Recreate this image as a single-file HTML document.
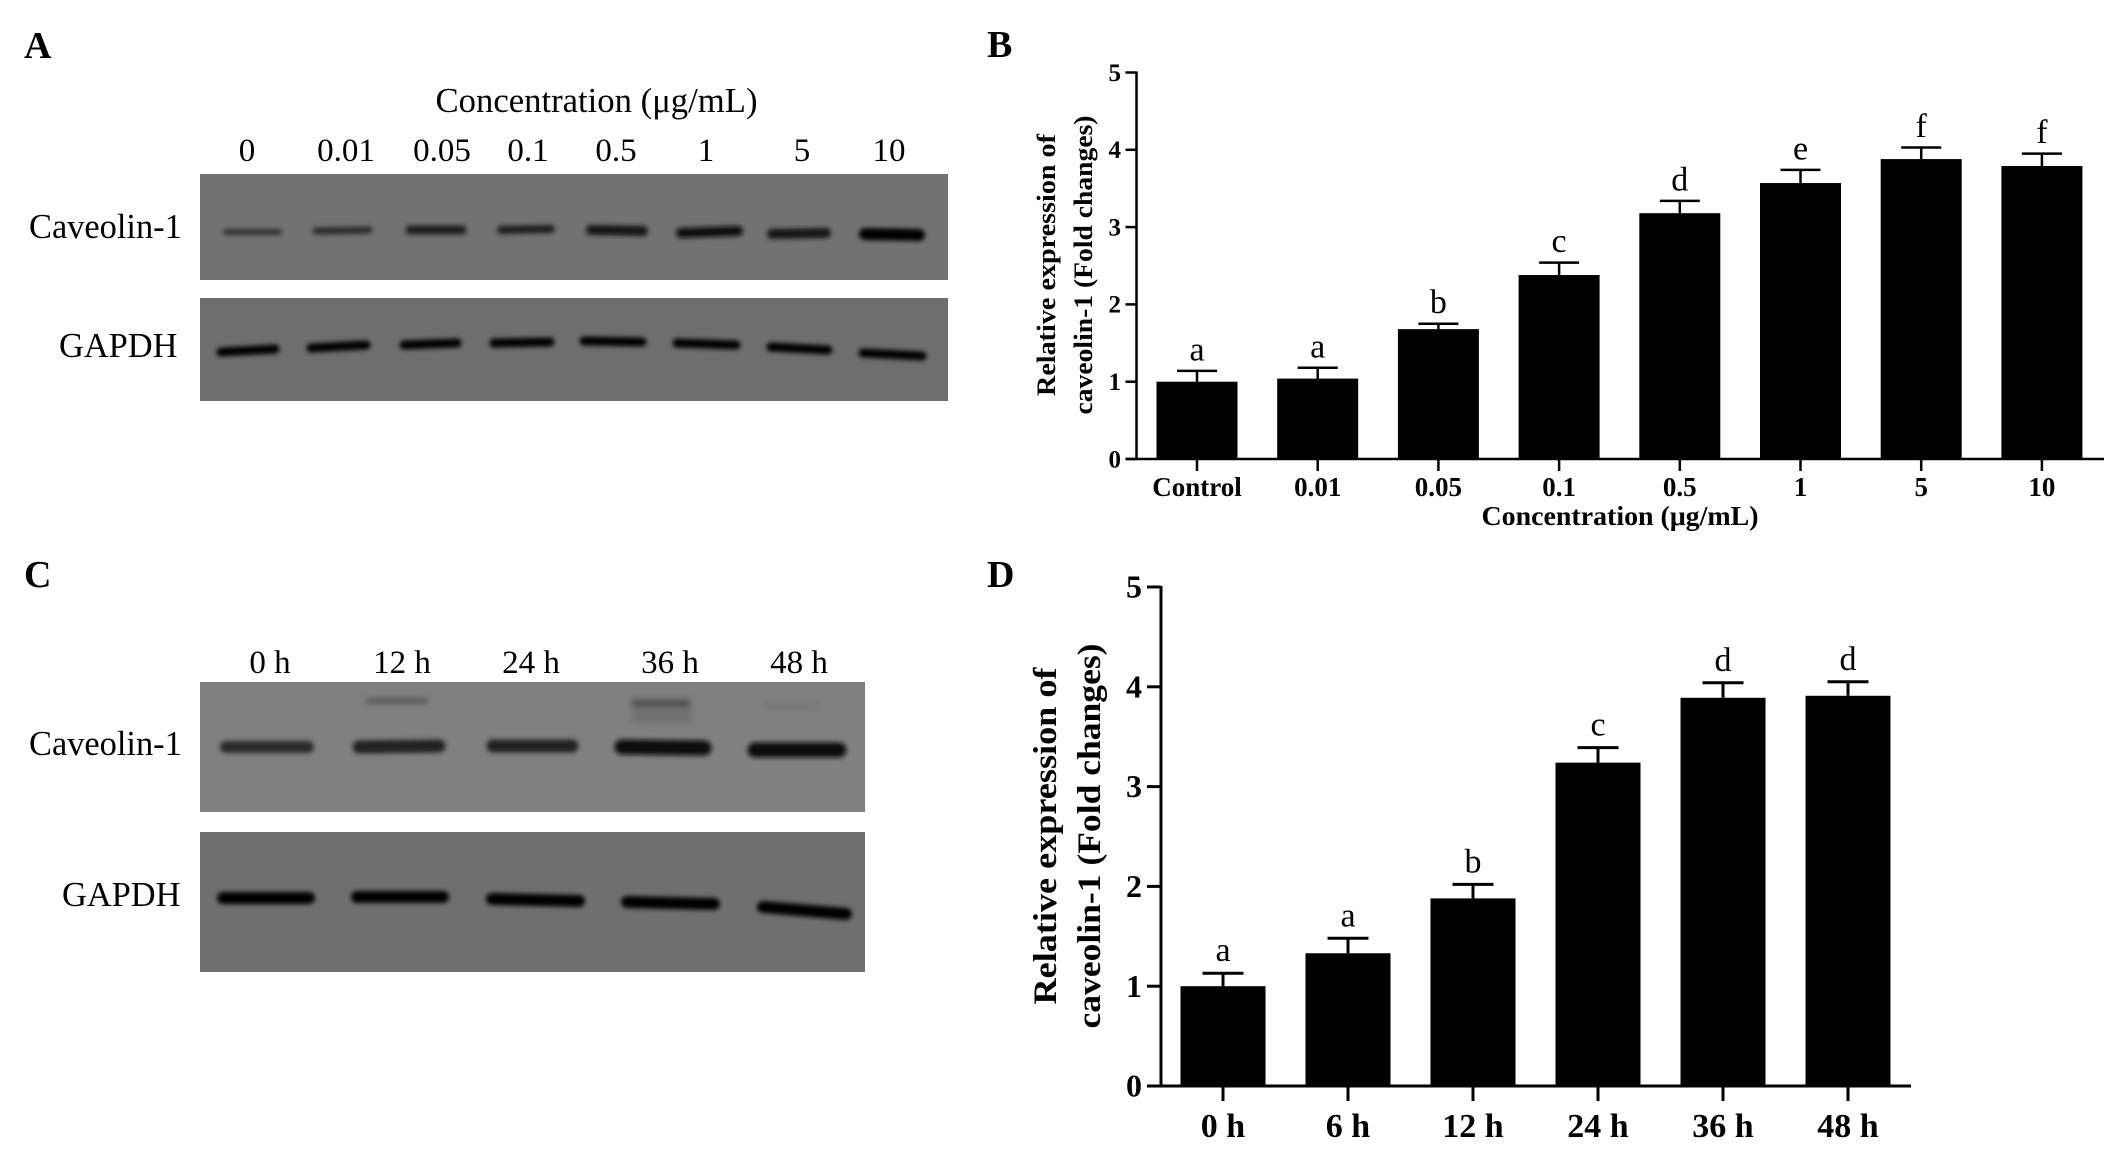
<!DOCTYPE html>
<html>
<head>
<meta charset="utf-8">
<title>Caveolin-1 expression figure</title>
<style>
html,body{margin:0;padding:0;background:#fff;}
svg{display:block;}
text{font-family:"Liberation Serif",serif;fill:#000;}
.panel{font-size:38px;font-weight:bold;}
.lbl{font-size:33px;}
.side{font-size:34.4px;}
</style>
</head>
<body>
<svg id="figure" width="2126" height="1158" viewBox="0 0 2126 1158" xmlns="http://www.w3.org/2000/svg">
<defs>
<filter id="blur" x="-20%" y="-300%" width="140%" height="700%"><feGaussianBlur stdDeviation="2.4"/></filter>
<filter id="blur2" x="-20%" y="-200%" width="140%" height="500%"><feGaussianBlur stdDeviation="3"/></filter>
</defs>
<rect width="2126" height="1158" fill="#fff"/>

<text class="panel" x="24" y="58">A</text>
<text class="panel" x="987" y="57">B</text>
<text class="panel" x="24" y="587">C</text>
<text class="panel" x="987" y="587">D</text>

<g>
<text class="side" x="596.5" y="112" text-anchor="middle" textLength="322" lengthAdjust="spacingAndGlyphs">Concentration (μg/mL)</text>
<text class="lbl" x="247" y="161" text-anchor="middle">0</text>
<text class="lbl" x="346" y="161" text-anchor="middle">0.01</text>
<text class="lbl" x="442" y="161" text-anchor="middle">0.05</text>
<text class="lbl" x="528" y="161" text-anchor="middle">0.1</text>
<text class="lbl" x="616" y="161" text-anchor="middle">0.5</text>
<text class="lbl" x="706" y="161" text-anchor="middle">1</text>
<text class="lbl" x="802" y="161" text-anchor="middle">5</text>
<text class="lbl" x="889" y="161" text-anchor="middle">10</text>
<text class="side" x="29" y="238">Caveolin-1</text>
<text class="side" x="59" y="357">GAPDH</text>
<rect x="200" y="174" width="748" height="106" fill="#727272"/>
<g fill="none" stroke-linecap="round" filter="url(#blur)">
<line x1="226" y1="232" x2="279" y2="232" stroke="#303030" stroke-width="6"/>
<line x1="316" y1="231" x2="369" y2="230" stroke="#2c2c2c" stroke-width="7"/>
<line x1="410" y1="230" x2="462" y2="230" stroke="#1c1c1c" stroke-width="9"/>
<line x1="501" y1="230" x2="551" y2="229" stroke="#1c1c1c" stroke-width="8"/>
<line x1="591" y1="230" x2="643" y2="231" stroke="#181818" stroke-width="10"/>
<line x1="681" y1="233" x2="738" y2="231" stroke="#0c0c0c" stroke-width="10"/>
<line x1="772" y1="234" x2="826" y2="233" stroke="#161616" stroke-width="10"/>
<line x1="865" y1="234" x2="919" y2="235" stroke="#050505" stroke-width="12"/>
</g>
<rect x="200" y="298" width="748" height="103" fill="#6e6e6e"/>
<g fill="none" stroke="#060606" stroke-width="9" stroke-linecap="round" filter="url(#blur)">
<line x1="221" y1="352" x2="275" y2="349"/>
<line x1="311" y1="348" x2="366" y2="345"/>
<line x1="404" y1="345" x2="457" y2="343"/>
<line x1="494" y1="343" x2="550" y2="342"/>
<line x1="584" y1="341" x2="642" y2="342"/>
<line x1="677" y1="343" x2="736" y2="345"/>
<line x1="771" y1="347" x2="828" y2="350"/>
<line x1="863" y1="353" x2="922" y2="356"/>
</g>
</g>

<g>
<text class="lbl" x="270" y="673" text-anchor="middle">0 h</text>
<text class="lbl" x="402" y="673" text-anchor="middle">12 h</text>
<text class="lbl" x="531" y="673" text-anchor="middle">24 h</text>
<text class="lbl" x="670" y="673" text-anchor="middle">36 h</text>
<text class="lbl" x="799" y="673" text-anchor="middle">48 h</text>
<text class="side" x="29" y="755">Caveolin-1</text>
<text class="side" x="62" y="906">GAPDH</text>
<rect x="200" y="682" width="665" height="130" fill="#808080"/>
<g fill="none" filter="url(#blur2)">
<rect x="632" y="706" width="60" height="18" fill="#727272"/>
<line x1="366" y1="701" x2="428" y2="701" stroke="#5a5a5a" stroke-width="6"/>
<line x1="632" y1="703" x2="690" y2="703" stroke="#4e4e4e" stroke-width="7"/>
<line x1="765" y1="706" x2="818" y2="706" stroke="#777" stroke-width="7"/>
</g>
<g fill="none" stroke-linecap="round" filter="url(#blur)">
<line x1="226" y1="747" x2="308" y2="747" stroke="#2a2a2a" stroke-width="12"/>
<line x1="359" y1="747" x2="439" y2="746" stroke="#242424" stroke-width="13"/>
<line x1="493" y1="746" x2="572" y2="746" stroke="#202020" stroke-width="13"/>
<line x1="622" y1="747" x2="704" y2="748" stroke="#0e0e0e" stroke-width="15"/>
<line x1="755" y1="750" x2="839" y2="750" stroke="#0e0e0e" stroke-width="15"/>
</g>
<rect x="200" y="832" width="665" height="140" fill="#6f6f6f"/>
<g fill="none" stroke="#040404" stroke-width="12" stroke-linecap="round" filter="url(#blur)">
<line x1="223" y1="898" x2="309" y2="898"/>
<line x1="357" y1="897" x2="443" y2="897"/>
<line x1="492" y1="899" x2="579" y2="901"/>
<line x1="627" y1="902" x2="714" y2="904"/>
<line x1="763" y1="907" x2="846" y2="914"/>
</g>
</g>

<g id="chart-b"></g>
<g id="chart-d"></g>
</svg>

<script>
var bCategories = ["Control", "0.01", "0.05", "0.1", "0.5", "1", "5", "10"];
var bValues = [1.0, 1.04, 1.68, 2.38, 3.18, 3.57, 3.88, 3.79];
var bErrorTops = [1.14, 1.18, 1.75, 2.54, 3.34, 3.74, 4.03, 3.95];
var bLetters = ["a", "a", "b", "c", "d", "e", "f", "f"];
var bTicks = [0, 1, 2, 3, 4, 5];

var dCategories = ["0 h", "6 h", "12 h", "24 h", "36 h", "48 h"];
var dValues = [1.0, 1.33, 1.88, 3.24, 3.89, 3.91];
var dErrorTops = [1.13, 1.48, 2.02, 3.39, 4.04, 4.05];
var dLetters = ["a", "a", "b", "c", "d", "d"];
var dTicks = [0, 1, 2, 3, 4, 5];

var NS = "http://www.w3.org/2000/svg";

function make(parent, tag, attrs, content) {
  var el = document.createElementNS(NS, tag);
  for (var k in attrs) { el.setAttribute(k, attrs[k]); }
  if (content !== undefined) { el.textContent = content; }
  parent.appendChild(el);
  return el;
}

function drawChart(root, cfg, categories, values, errorTops, letters, ticks) {
  function yScale(v) { return cfg.y0 - (v / cfg.yMax) * (cfg.y0 - cfg.yTop); }
  function xScale(i) { return cfg.x0 + i * cfg.step; }
  var el, i;

  for (i = 0; i < categories.length; i++) {
    var cx = xScale(i);
    var top = yScale(values[i]);
    var errY = yScale(errorTops[i]);

    el = make(root, "line", {x1: cx, x2: cx, y1: top, y2: errY, stroke: "#000", "stroke-width": cfg.err});
    
    

    el = make(root, "line", {x1: cx - cfg.cap / 2, x2: cx + cfg.cap / 2, y1: errY, y2: errY, stroke: "#000", "stroke-width": cfg.err});
    
    

    el = make(root, "rect", {x: cx - cfg.barW / 2, y: top, width: cfg.barW, height: cfg.y0 - top, fill: "#000"});
    
    

    el = make(root, "text", {x: cx, y: errY - cfg.letterGap, "text-anchor": "middle", "font-size": cfg.letterSize}, letters[i]);
    
    

    el = make(root, "line", {x1: cx, x2: cx, y1: cfg.y0, y2: cfg.y0 + cfg.xTick, stroke: "#000", "stroke-width": cfg.axis});
    
    

    el = make(root, "text", {x: cx, y: cfg.xLabelY, "text-anchor": "middle", "font-size": cfg.xTickSize, "font-weight": "bold"}, categories[i]);
    
    
  }

  el = make(root, "line", {x1: cfg.axisX, x2: cfg.axisX, y1: yScale(cfg.yMax) - 1, y2: cfg.y0, stroke: "#000", "stroke-width": cfg.axis});
  
  

  el = make(root, "line", {x1: cfg.axisX - cfg.yTick, x2: cfg.xEnd, y1: cfg.y0, y2: cfg.y0, stroke: "#000", "stroke-width": cfg.axis});
  
  

  for (i = 0; i < ticks.length; i++) {
    var ty = yScale(ticks[i]);
    el = make(root, "line", {x1: cfg.axisX - cfg.yTick, x2: cfg.axisX, y1: ty, y2: ty, stroke: "#000", "stroke-width": cfg.axis});
    
    

    el = make(root, "text", {x: cfg.yLabelX, y: ty + cfg.tickSize * 0.33, "text-anchor": "end", "font-size": cfg.tickSize, "font-weight": "bold"}, String(ticks[i]));
    
    
  }

  el = make(root, "text", {transform: "translate(" + cfg.t1x + "," + cfg.tcy + ") rotate(-90)", "text-anchor": "middle", "font-size": cfg.titleSize, "font-weight": "bold", textLength: cfg.t1len, lengthAdjust: "spacingAndGlyphs"}, "Relative expression of");
  
  

  el = make(root, "text", {transform: "translate(" + cfg.t2x + "," + cfg.tcy + ") rotate(-90)", "text-anchor": "middle", "font-size": cfg.titleSize, "font-weight": "bold", textLength: cfg.t2len, lengthAdjust: "spacingAndGlyphs"}, "caveolin-1 (Fold changes)");
  
  
}

drawChart(document.getElementById("chart-b"), {
  x0: 1197, step: 120.7, barW: 81, y0: 459, yTop: 72.5, yMax: 5,
  axisX: 1136.5, xEnd: 2104, yTick: 11, xTick: 12, axis: 2.5, err: 2.5, cap: 40,
  letterGap: 10.5, letterSize: 34, tickSize: 25, xTickSize: 27, xLabelY: 496, yLabelX: 1121,
  titleSize: 26.5, t1x: 1055, t2x: 1092, tcy: 265, t1len: 262, t2len: 299
}, bCategories, bValues, bErrorTops, bLetters, bTicks);

var xTitleB = make(document.getElementById("chart-b"), "text", {x: 1620, y: 525, "text-anchor": "middle", "font-size": 27.5, "font-weight": "bold", textLength: 277, lengthAdjust: "spacingAndGlyphs"}, "Concentration (μg/mL)");



drawChart(document.getElementById("chart-d"), {
  x0: 1223, step: 125, barW: 85, y0: 1086, yTop: 587, yMax: 5,
  axisX: 1161, xEnd: 1911, yTick: 14, xTick: 15, axis: 3, err: 3, cap: 41,
  letterGap: 12, letterSize: 34, tickSize: 32, xTickSize: 34, xLabelY: 1137, yLabelX: 1142,
  titleSize: 33, t1x: 1056, t2x: 1100, tcy: 836, t1len: 337, t2len: 385
}, dCategories, dValues, dErrorTops, dLetters, dTicks);
</script>
</body>
</html>
